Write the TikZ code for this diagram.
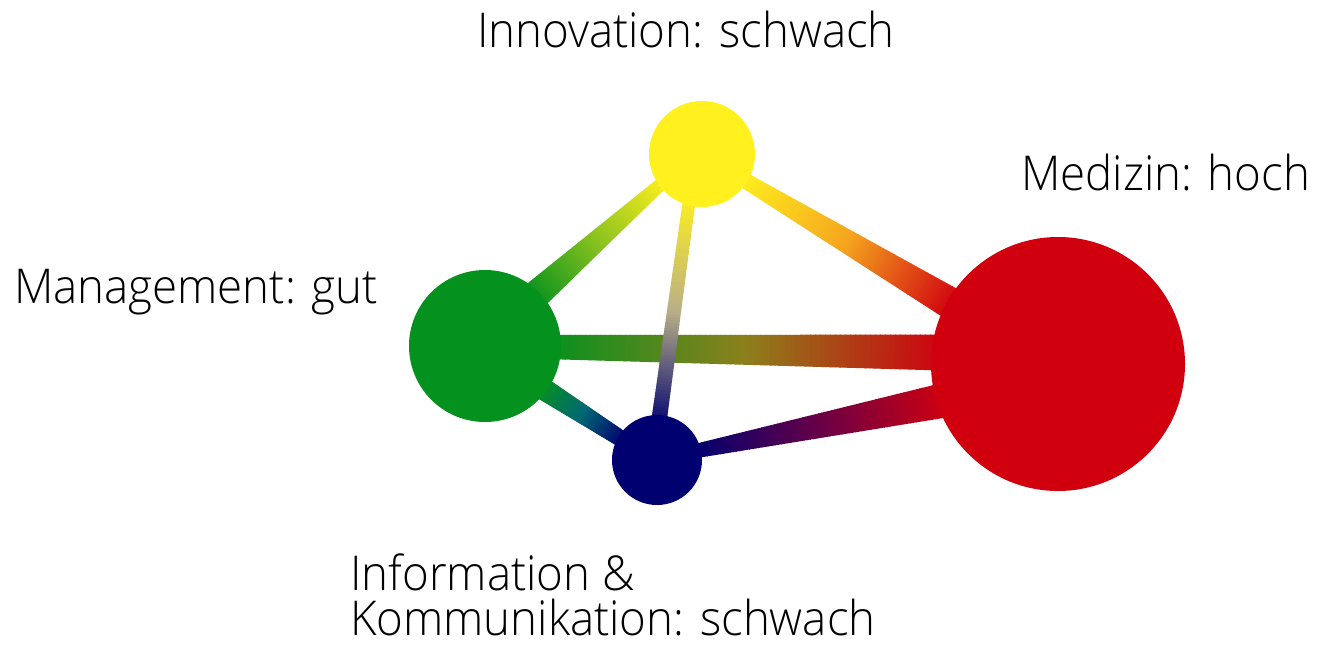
\documentclass[tikz,border=0pt]{standalone}
\usepackage{fontspec}
\setmainfont{Open Sans Light}
\usetikzlibrary{calc}
\pgfdeclarelayer{back}
\pgfdeclarelayer{bg}
\pgfsetlayers{back,bg,main}

\definecolor{cyel}{RGB}{255,240,30}
\definecolor{cgrn}{RGB}{5,145,30}
\definecolor{cnav}{RGB}{0,0,112}
\definecolor{cred}{RGB}{208,0,15}
\definecolor{mGR}{RGB}{140,128,28}
\definecolor{mYR}{RGB}{245,165,30}
\definecolor{mYG}{RGB}{140,195,30}
\definecolor{mYN}{RGB}{185,175,135}
\definecolor{mGN}{RGB}{0,105,115}
\definecolor{mNR}{RGB}{105,0,70}

\newcommand{\gradbar}[7]{%
  \path let \p1=($(#2)-(#1)$) in \pgfextra{%
    \pgfmathsetmacro{\tmpang}{atan2(\y1,\x1)}\xdef\barang{\tmpang}%
    \pgfmathsetmacro{\tmplen}{veclen(\x1,\y1)}\xdef\barlen{\tmplen}};
  \begin{scope}[shift={(#1)},rotate=\barang,x=1pt,y=1pt]
    \foreach \i in {1,...,80}{%
      \pgfmathsetmacro{\ua}{(\i-1)/80*\barlen}%
      \pgfmathsetmacro{\ub}{min(\i/80*\barlen+0.8,\barlen)}%
      \pgfmathsetmacro{\ha}{(#3+(#4-#3)*(\i-1)/80)/2}%
      \pgfmathsetmacro{\hb}{(#3+(#4-#3)*\i/80)/2}%
      \pgfmathsetmacro{\tc}{(\i-0.5)/80}%
      \pgfmathsetmacro{\pc}{\tc<0.5 ? 200*\tc : 200*\tc-100}%
      \ifdim\tc pt<0.5pt\relax\colorlet{segc}{#6!\pc!#5}\else\colorlet{segc}{#7!\pc!#6}\fi
      \fill[segc] (\ua,-\ha) -- (\ub,-\hb) -- (\ub,\hb) -- (\ua,\ha) -- cycle;
    }
  \end{scope}
}

\newcommand{\lbltext}[1]{\scalebox{0.95}[1]{#1}}

\tikzset{
  dot/.style={circle, inner sep=0pt, draw=none},
  lbl/.style={font=\fontsize{48}{45}\selectfont, inner sep=0pt, anchor=base west, align=left}
}

\begin{document}
\begin{tikzpicture}[x=1pt,y=-1pt]
\useasboundingbox (0,0) rectangle (1317,653);
\begin{pgfonlayer}{back}
\fill[white] (0,0) rectangle (1317,653);
\end{pgfonlayer}

% circles
\node[dot, fill=cyel, minimum size=106pt] (Y) at (702,154) {};
\node[dot, fill=cgrn, minimum size=152pt] (G) at (485,346) {};
\node[dot, fill=cnav, minimum size=90pt]  (N) at (657,460) {};
\node[dot, fill=cred, minimum size=254pt] (R) at (1058,364) {};

% bar end points
\coordinate (gr1) at ($(G)+(60,1)$);
\coordinate (gr2) at ($(R)+(-113,-11.4)$);
\coordinate (yr1) at ($(Y)+(37,23)$);
\coordinate (yr2) at ($(R)+(-103,-58)$);
\coordinate (yg1) at ($(Y)+(-36.5,26)$);
\coordinate (yg2) at ($(G)+(45.5,-46.4)$);
\coordinate (yn1) at ($(Y)+(-12,41)$);
\coordinate (yn2) at ($(N)+(1,-32)$);
\coordinate (gn1) at ($(G)+(54.8,40.7)$);
\coordinate (gn2) at ($(N)+(-32.8,-19.2)$);
\coordinate (nr1) at ($(N)+(36,-8.4)$);
\coordinate (nr2) at ($(R)+(-110,35.5)$);

\begin{pgfonlayer}{bg}
  \gradbar{yg1}{yg2}{12}{29}{cyel}{mYG}{cgrn}
  \gradbar{yr1}{yr2}{15}{32}{cyel}{mYR}{cred}
  \gradbar{gn1}{gn2}{22}{16}{cgrn}{mGN}{cnav}
  \gradbar{nr1}{nr2}{14}{35}{cnav}{mNR}{cred}
  \gradbar{gr1}{gr2}{24}{36}{cgrn}{mGR}{cred}
  \gradbar{yn1}{yn2}{12.5}{15.5}{cyel}{mYN}{cnav}
\end{pgfonlayer}

% labels
\node[lbl] (tI) at (477,47) {\lbltext{Innovation: schwach}};
\node[lbl] (tM) at (1021,190) {\lbltext{Medizin: hoch}};
\node[lbl] (tG) at (14,303) {\lbltext{Management: gut}};
\node[lbl] (tK) at (350,635) {\lbltext{Information \&}\\\lbltext{Kommunikation: schwach}};
\end{tikzpicture}
\end{document}
